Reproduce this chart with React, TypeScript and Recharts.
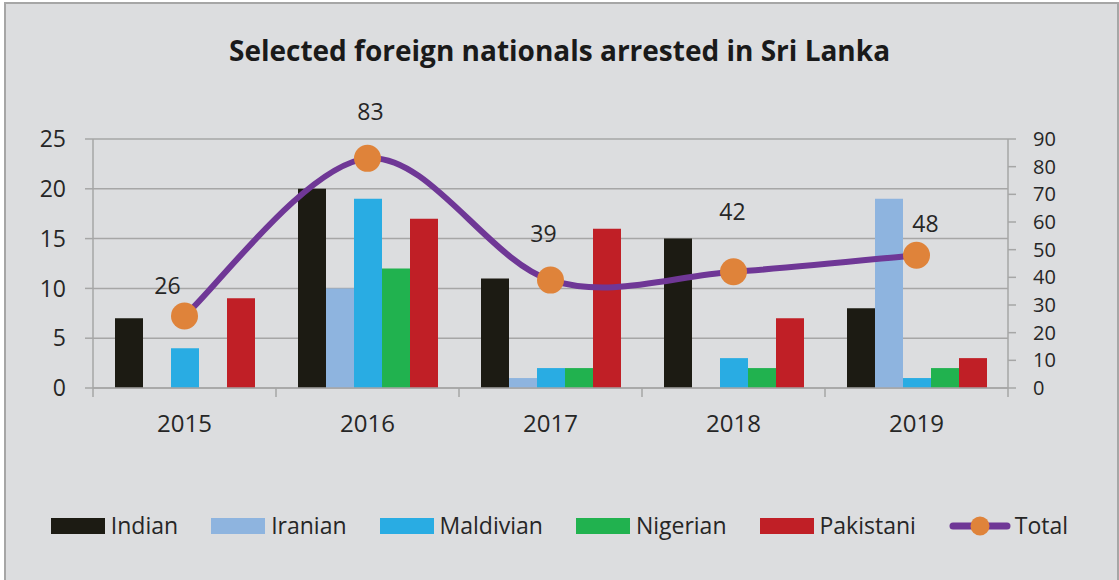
import { ComposedChart, Bar, Line, XAxis, YAxis, CartesianGrid, Legend, LabelList } from 'recharts';

const years = ['2015', '2016', '2017', '2018', '2019'];
const indian = [7, 20, 11, 15, 8];
const iranian = [0, 10, 1, 0, 19];
const maldivian = [4, 19, 2, 3, 1];
const nigerian = [0, 12, 2, 2, 2];
const pakistani = [9, 17, 16, 7, 3];
const total = [26, 83, 39, 42, 48];
const leftTicks = [0, 5, 10, 15, 20, 25];
const rightTicks = [0, 10, 20, 30, 40, 50, 60, 70, 80, 90];

// where Excel put each total label, relative to its dot
const labelDx = [-17, 3, -7, -1, 9];
const labelDy = [-30, -46, -46, -60, -31];

const data = years.map((year, i) => ({
  year,
  Indian: indian[i],
  Iranian: iranian[i],
  Maldivian: maldivian[i],
  Nigerian: nigerian[i],
  Pakistani: pakistani[i],
  Total: total[i],
}));

const W = 1119;
const H = 580;
const PLOT_LEFT = 93;
const PLOT_RIGHT = 1008;
const PLOT_TOP = 139;
const PLOT_BOTTOM = 388;
const X_AXIS_H = 50;
const BAND = (PLOT_RIGHT - PLOT_LEFT) / years.length;

const FONT = '"Open Sans", "Noto Sans", sans-serif';
const TEXT = '#262626';
const AXIS = '#a6a6a6';
const BG = '#dcdddf';

const colors = {
  Indian: '#1c1b13',
  Iranian: '#8eb4df',
  Maldivian: '#29ace3',
  Nigerian: '#21b24f',
  Pakistani: '#c01f26',
  line: '#6f3796',
  dot: '#df833a',
};

// Excel-style smoothed line (Catmull-Rom through the points)
const excelSmooth = (context: any) => {
  let pts: number[][] = [];
  return {
    areaStart() {},
    areaEnd() {},
    lineStart() {
      pts = [];
    },
    point(x: number, y: number) {
      pts.push([+x, +y]);
    },
    lineEnd() {
      if (!pts.length) return;
      context.moveTo(pts[0][0], pts[0][1]);
      for (let i = 0; i < pts.length - 1; i++) {
        const p0 = pts[i - 1] || pts[i];
        const p1 = pts[i];
        const p2 = pts[i + 1];
        const p3 = pts[i + 2] || p2;
        context.bezierCurveTo(
          p1[0] + (p2[0] - p0[0]) / 6,
          p1[1] + (p2[1] - p0[1]) / 6,
          p2[0] - (p3[0] - p1[0]) / 6,
          p2[1] - (p3[1] - p1[1]) / 6,
          p2[0],
          p2[1]
        );
      }
    },
  };
};

function YearTick({ x, y, payload }: any) {
  const isLast = payload.value === years[years.length - 1];
  return (
    <g>
      <line x1={x - BAND / 2} x2={x - BAND / 2} y1={y} y2={y + 9} stroke={AXIS} strokeWidth={1.5} />
      {isLast && <line x1={x + BAND / 2} x2={x + BAND / 2} y1={y} y2={y + 9} stroke={AXIS} strokeWidth={1.5} />}
      <text x={x} y={y + 44} textAnchor="middle" fill={TEXT} fontSize={24}>
        {payload.value}
      </text>
    </g>
  );
}

function TotalLabel({ x, y, value, index }: any) {
  return (
    <text
      x={x + labelDx[index]}
      y={y + labelDy[index] + 8}
      textAnchor="middle"
      fill={TEXT}
      fontSize={23}
    >
      {value}
    </text>
  );
}

function LegendContent({ payload }: any) {
  return (
    <div style={{ display: 'flex', justifyContent: 'center', alignItems: 'center', gap: 33 }}>
      {(payload || []).map((entry: any) => (
        <div key={entry.value} style={{ display: 'flex', alignItems: 'center' }}>
          {entry.type === 'line' ? (
            <svg width={62} height={20} style={{ display: 'block' }}>
              <line x1={4} x2={58} y1={10} y2={10} stroke={colors.line} strokeWidth={7} strokeLinecap="round" />
              <circle cx={31} cy={10} r={9.5} fill={colors.dot} />
            </svg>
          ) : (
            <div style={{ width: 54, height: 16, background: entry.color }} />
          )}
          <span style={{ marginLeft: entry.type === 'line' ? 4 : 6, fontSize: 23, lineHeight: '23px', color: TEXT }}>
            {entry.value}
          </span>
        </div>
      ))}
    </div>
  );
}

export default function App() {
  return (
    <div style={{ position: 'absolute', left: 0, top: 0, width: W, height: H, background: '#fff', overflow: 'hidden', fontFamily: FONT }}>
      <div
        style={{
          position: 'absolute',
          left: 4,
          top: 2,
          width: 1111,
          height: 620,
          background: BG,
          border: `2px solid ${AXIS}`,
        }}
      />
      <div
        style={{
          position: 'absolute',
          left: 0,
          top: 36,
          width: W,
          textAlign: 'center',
          fontSize: 28,
          lineHeight: '28px',
          fontWeight: 700,
          color: '#1a1a1a',
        }}
      >
        Selected foreign nationals arrested in Sri Lanka
      </div>
      <div style={{ position: 'absolute', left: 0, top: 0 }}>
        <ComposedChart
          width={W}
          height={H}
          data={data}
          barGap={0}
          margin={{ top: PLOT_TOP, right: 0, bottom: H - PLOT_BOTTOM - X_AXIS_H, left: 0 }}
        >
          <CartesianGrid yAxisId="left" vertical={false} stroke={AXIS} strokeWidth={1.5} />
          <XAxis
            dataKey="year"
            height={X_AXIS_H}
            axisLine={{ stroke: AXIS, strokeWidth: 1.5 }}
            tickLine={false}
            tickSize={0}
            tickMargin={0}
            tick={<YearTick />}
            interval={0}
          />
          <YAxis
            yAxisId="left"
            width={PLOT_LEFT}
            domain={[0, 25]}
            ticks={leftTicks}
            interval={0}
            axisLine={{ stroke: AXIS, strokeWidth: 1.5 }}
            tickLine={{ stroke: AXIS, strokeWidth: 1.5 }}
            tickSize={8}
            tickMargin={19}
            tick={{ fill: TEXT, fontSize: 23 }}
          />
          <YAxis
            yAxisId="right"
            orientation="right"
            width={W - PLOT_RIGHT}
            domain={[0, 90]}
            ticks={rightTicks}
            interval={0}
            axisLine={{ stroke: AXIS, strokeWidth: 1.5 }}
            tickLine={{ stroke: AXIS, strokeWidth: 1.5 }}
            tickSize={8}
            tickMargin={17}
            tick={{ fill: TEXT, fontSize: 20 }}
          />
          <Bar yAxisId="left" dataKey="Indian" fill={colors.Indian} barSize={28} isAnimationActive={false} />
          <Bar yAxisId="left" dataKey="Iranian" fill={colors.Iranian} barSize={28} isAnimationActive={false} />
          <Bar yAxisId="left" dataKey="Maldivian" fill={colors.Maldivian} barSize={28} isAnimationActive={false} />
          <Bar yAxisId="left" dataKey="Nigerian" fill={colors.Nigerian} barSize={28} isAnimationActive={false} />
          <Bar yAxisId="left" dataKey="Pakistani" fill={colors.Pakistani} barSize={28} isAnimationActive={false} />
          <Line
            yAxisId="right"
            dataKey="Total"
            type={excelSmooth as any}
            stroke={colors.line}
            strokeWidth={6}
            dot={{ r: 13.5, fill: colors.dot, stroke: 'none', strokeWidth: 0 }}
            activeDot={false}
            isAnimationActive={false}
          >
            <LabelList dataKey="Total" content={<TotalLabel />} />
          </Line>
          <Legend
            layout="horizontal"
            verticalAlign="middle"
            align="center"
            wrapperStyle={{ top: 514, left: 0, width: W }}
            content={<LegendContent />}
          />
        </ComposedChart>
      </div>
    </div>
  );
}
